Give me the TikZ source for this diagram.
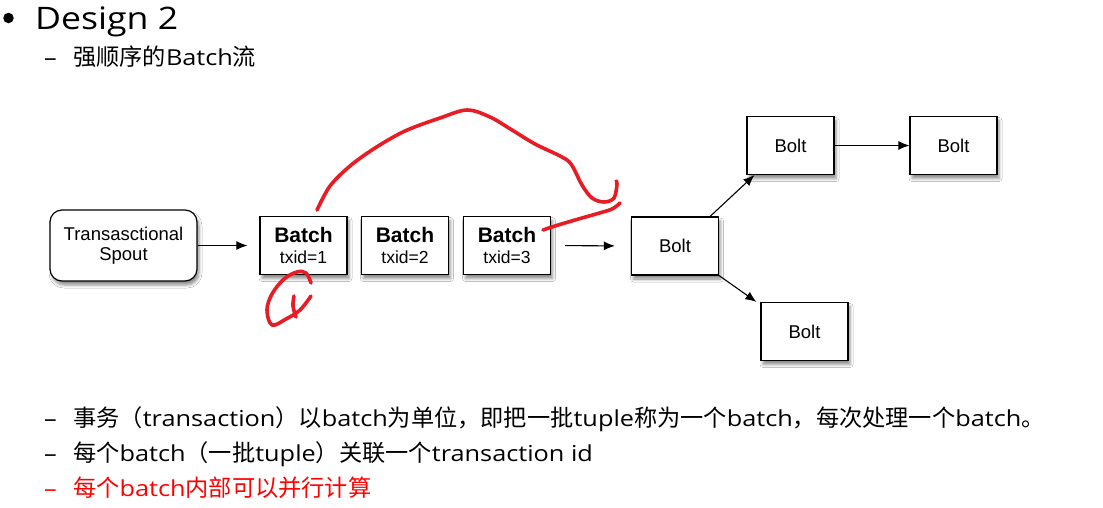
\documentclass[tikz,border=0pt]{standalone}
\usepackage{fontspec}
\setmainfont{Liberation Sans}
\newfontfamily\cjk{Noto Sans CJK SC}
\newfontfamily\lat[FakeStretch=1.15]{Open Sans}
\newcommand\zh[1]{{\cjk\fontsize{23.2}{26}\selectfont #1}}
\usetikzlibrary{arrows.meta,shadows.blur}
\definecolor{pen}{RGB}{232,28,36}
\tikzset{
  box/.style={draw=black, line width=1.2pt, fill=white, minimum width=87pt, minimum height=58pt, inner sep=0pt, align=center,
    font=\fontsize{18.5}{22}\selectfont,
    blur shadow={shadow xshift=2pt, shadow yshift=-4pt, shadow blur radius=3pt, shadow opacity=45}},
  arr/.style={-{Latex[length=11pt,width=9pt]}, line width=1.1pt},
  redpen/.style={draw=pen, line width=3.6pt, line cap=round, line join=round},
  bodytxt/.style={anchor=base west, inner sep=0pt, font=\lat\fontsize{22}{26}\selectfont},
}
\begin{document}
\begin{tikzpicture}[x=1pt,y=-1pt]
\useasboundingbox[fill=white] (0,0) rectangle (1103,507);
% titles
\node[circle, fill=black, inner sep=0pt, minimum size=10.5pt] (bul) at (8.5,18) {};
\node[anchor=base west, inner sep=0pt, font=\lat\fontsize{31}{34}\selectfont] (title) at (35,29.5) {Design 2};
\node[bodytxt] (d0) at (44,65) {–};
\node[bodytxt] (sub) at (73,65) {\zh{强顺序的}Batch\zh{流}};
% diagram
\node[box, rounded corners=12pt, minimum width=147pt, minimum height=71pt] (spout) at (123.5,245.5) {Transasctional\\[-2pt]Spout};
\node[box] (b1) at (303.5,245.5) {\fontsize{21}{22}\selectfont\bfseries Batch\\[-1pt]\fontsize{17.5}{20}\selectfont txid=1};
\node[box] (b2) at (405,245.5) {\fontsize{21}{22}\selectfont\bfseries Batch\\[-1pt]\fontsize{17.5}{20}\selectfont txid=2};
\node[box] (b3) at (507,245.5) {\fontsize{21}{22}\selectfont\bfseries Batch\\[-1pt]\fontsize{17.5}{20}\selectfont txid=3};
\node[box] (c) at (675,246) {Bolt};
\node[box] (t) at (790.5,145.5) {Bolt};
\node[box] (r) at (953.5,145.5) {Bolt};
\node[box] (bt) at (804.5,331.5) {Bolt};
\draw[arr, shorten >=12pt] (spout) -- (b1);
\draw[arr, shorten <=14pt, shorten >=16pt] (b3.east) -- (c.west);
\draw[arr] ([xshift=-9pt]c.north east) -- ([xshift=8pt]t.south west);
\draw[arr] (c.south east) -- ([xshift=-4pt]bt.north west);
\draw[arr] (t) -- (r);
% red pen
\draw[redpen] plot[smooth, tension=0.55] coordinates {(317,210) (330,186) (350,166) (375,148) (405,131) (440,118) (467,110) (490,117) (512,130) (535,144) (560,156) (571,164) (582,185) (592,198) (604,202) (614,198) (617,184) (616,181)};
\draw[redpen] plot[smooth, tension=0.55] coordinates {(620,203) (612,209) (596,214) (575,220) (555,226) (543,230)};
\draw[redpen] plot[smooth, tension=0.6] coordinates {(311,283) (306,273) (297,272) (284,279) (272,294) (267,310) (272,325) (286,319) (300,310) (311,296)};
\draw[redpen] plot[smooth, tension=0.6] coordinates {(294,296) (293,306) (296,317)};
% bottom text
\node[bodytxt] (d1) at (44,426) {–};
\node[bodytxt] (l1) at (73,426) {\zh{事务（}transaction\zh{）以}batch\zh{为单位，即把一批}tuple\zh{称为一个}batch\zh{，每次处理一个}batch\zh{。}};
\node[bodytxt] (d2) at (44,461) {–};
\node[bodytxt] (l2) at (73,461) {\zh{每个}batch\zh{（一批}tuple\zh{）关联一个}transaction id};
\node[bodytxt, text=red] (d3) at (44,496) {–};
\node[bodytxt, text=red] (l3) at (73,496) {\zh{每个}batch\zh{内部可以并行计算}};
\end{tikzpicture}
\end{document}
